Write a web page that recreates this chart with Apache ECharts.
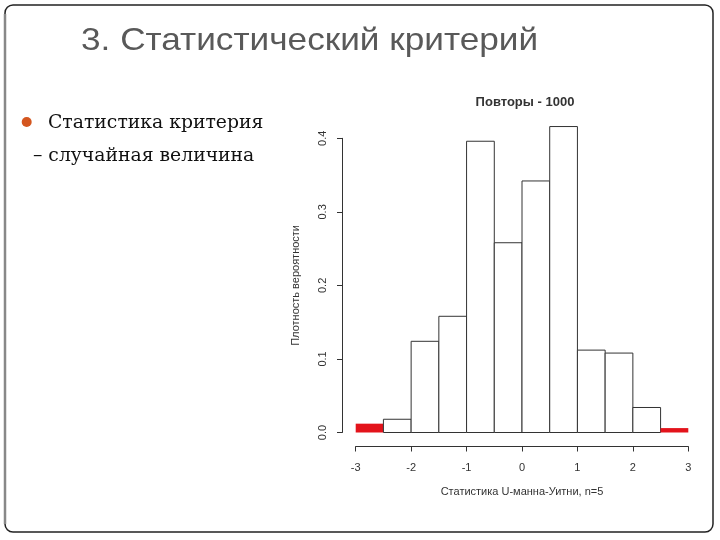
<!DOCTYPE html>
<html>
<head>
<meta charset="utf-8">
<script src="https://cdn.jsdelivr.net/npm/echarts@6/dist/echarts.min.js"></script>
<style>
html,body{margin:0;padding:0;background:#fff;}
#chart{width:720px;height:540px;}
</style>
</head>
<body>
<div id="chart"></div>
<script>
// ---- data ----
const slideTitle = '3. Статистический критерий';
const bulletLine1 = 'Статистика критерия';
const bulletLine2 = '– случайная величина';
const chartTitle = 'Повторы - 1000';
const xAxisTitle = 'Статистика U-манна-Уитни, n=5';
const yAxisTitle = 'Плотность вероятности';
const binLeft  = [-3, -2.5, -2, -1.5, -1, -0.5, 0, 0.5, 1, 1.5, 2, 2.5];
const binRight = [-2.5, -2, -1.5, -1, -0.5, 0, 0.5, 1, 1.5, 2, 2.5, 3];
const density  = [0.012, 0.018, 0.124, 0.158, 0.396, 0.258, 0.342, 0.416, 0.112, 0.108, 0.034, 0.006];
const criticalLow = -2.5;
const criticalHigh = 2.5;
const xTicks = [-3, -2, -1, 0, 1, 2, 3];
const yTicks = [0, 0.1, 0.2, 0.3, 0.4];

const histData = binLeft.map((l, i) => [l, binRight[i], density[i]]);

const chart = echarts.init(document.getElementById('chart'), null, {renderer: 'canvas'});
const axisColor = '#333';
const option = {
  backgroundColor: '#fff',
  animation: false,
  title: {
    text: chartTitle,
    left: 520, top: 91, textAlign: 'center',
    textStyle: {fontFamily: 'Liberation Sans', fontSize: 13, fontWeight: 'bold', color: '#333'}
  },
  grid: {left: 355.7, right: 31.7, top: 138.3, bottom: 107.5},
  xAxis: {
    type: 'value', min: xTicks[0], max: xTicks[xTicks.length - 1], interval: 1,
    offset: 14,
    name: xAxisTitle, nameLocation: 'middle', nameGap: 40,
    nameTextStyle: {fontFamily: 'Liberation Sans', fontSize: 11, color: '#333'},
    axisLine: {show: true, onZero: false, lineStyle: {color: axisColor, width: 1}},
    axisTick: {show: true, length: 5, lineStyle: {color: axisColor}},
    axisLabel: {fontFamily: 'Liberation Sans', fontSize: 11, color: '#333', margin: 16},
    splitLine: {show: false}
  },
  yAxis: {
    type: 'value', min: yTicks[0], max: yTicks[yTicks.length - 1], interval: 0.1,
    offset: 13.7,
    name: yAxisTitle, nameLocation: 'middle', nameGap: 41,
    nameTextStyle: {fontFamily: 'Liberation Sans', fontSize: 11, color: '#333'},
    axisLine: {show: true, onZero: false, lineStyle: {color: axisColor, width: 1}},
    axisTick: {show: true, length: 5, lineStyle: {color: axisColor}},
    axisLabel: {fontFamily: 'Liberation Sans', fontSize: 11, color: '#333', margin: 14, rotate: 90,
      formatter: v => v.toFixed(1)},
    splitLine: {show: false}
  },
  series: [{
    type: 'custom',
    clip: false,
    data: histData,
    renderItem: function (params, api) {
      const x0 = api.value(0), x1 = api.value(1), y = api.value(2);
      const p0 = api.coord([x0, y]);
      const p1 = api.coord([x1, 0]);
      const tail = x1 <= criticalLow || x0 >= criticalHigh;
      return {
        type: 'rect',
        shape: {x: p0[0], y: p0[1], width: p1[0] - p0[0], height: p1[1] - p0[1]},
        style: tail ? {fill: '#e3131b', stroke: null} : {fill: '#fff', stroke: '#333', lineWidth: 1}
      };
    }
  }],
  graphic: [
    {type: 'rect', shape: {x: 5, y: 5, width: 708, height: 527, r: 8},
     style: {fill: 'none', stroke: '#222', lineWidth: 1.5}, z: 0},
    {type: 'line', shape: {x1: 5, y1: 14, x2: 5, y2: 524},
     style: {stroke: '#888', lineWidth: 2.5}, z: 1},
    {type: 'text', x: 81, y: 25, scaleX: 1.1,
     style: {text: slideTitle, font: '32px "Liberation Sans"', fill: '#595959'}},
    {type: 'circle', shape: {cx: 26.7, cy: 122, r: 5}, style: {fill: '#d4561f'}},
    {type: 'text', left: 48, top: 114,
     style: {text: bulletLine1, font: '18.8px "DejaVu Serif"', fill: '#111'}},
    {type: 'text', left: 33, top: 147,
     style: {text: bulletLine2, font: '18.8px "DejaVu Serif"', fill: '#111'}}
  ]
};
chart.setOption(option);
</script>
</body>
</html>
